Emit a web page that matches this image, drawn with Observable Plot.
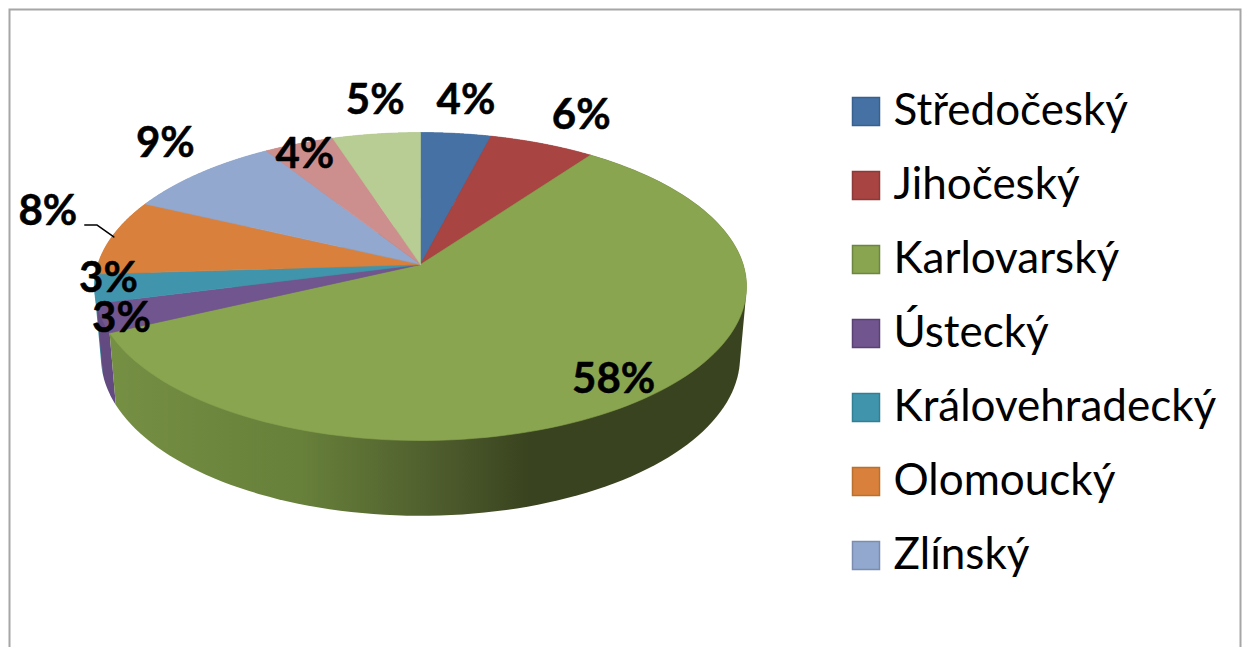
<!DOCTYPE html>
<html>
<head>
<meta charset="utf-8">
<style>html,body{margin:0;padding:0;background:#fff;overflow:hidden}svg{display:block}</style>
<script src="https://cdn.jsdelivr.net/npm/d3@7"></script>
<script src="https://cdn.jsdelivr.net/npm/@observablehq/plot@0.6"></script>
</head>
<body>
<script>
// ---- chart values ----
const categories = ["Středočeský","Jihočeský","Karlovarský","Ústecký","Královehradecký","Olomoucký","Zlínský","",""];
const shares = [4,6,58,3,3,8,9,4,5];
const topColors = ["#4571a5","#a84442","#89a550","#71558f","#4095ad","#d9813c","#92a8ce","#cd8f8e","#b8cd93"];
const sideColors = ["#3a5f8a","#8a3735","url(#sideGreen)","#634a80","#3a8ba0","#b96d30","#7a8fb0","#ad7978","#9bb07a"];
const legendBorders = ["#38608f","#8b3a38","#6d8540","#5a4173","#317f93","#b9702f","#7a8db0"];
const labelNudges = [[10,-33],[39,-28],[-38,-16],[20,0],[14,-10],[-64,-25],[-34,-30],[6,11],[-1,-33]];

// ---- scene geometry (a tilted disc seen in perspective) ----
const W = 1248, H = 647;
const apex = {x: 420, y: 264};
const persp = -1/7, kx = 322.7, ky = 150.86;
const depth = {sx: 0.98, sy: 1.03, dy: 70};

function rim(theta, r = 1) {
  const u = r * Math.sin(theta), v = -r * Math.cos(theta), d = 1 + persp * v;
  return {x: apex.x + kx * u / d, y: apex.y + ky * v / d};
}
function lower(p) {
  return {x: apex.x + (p.x - apex.x) * depth.sx, y: apex.y + (p.y - apex.y) * depth.sy + depth.dy};
}
const total = d3.sum(shares);
let cum = 0;
const slices = shares.map((s, i) => {
  const a0 = cum / total * 2 * Math.PI; cum += s;
  const a1 = cum / total * 2 * Math.PI;
  const arc = d3.range(0, 121).map(k => rim(a0 + (a1 - a0) * k / 120));
  return {i, a0, a1, mid: (a0 + a1) / 2, arc};
});
const backToFront = d3.sort(slices, s => -Math.cos(s.mid));

// the side wall of a slice: the hull of its upper and lower rim; the top face covers the rest
const sideMarks = backToFront.map(s => {
  const hull = d3.polygonHull([...s.arc, ...s.arc.map(lower)].map(p => [p.x, p.y]));
  return Plot.line([...hull, hull[0]], {x: d => d[0], y: d => d[1], fill: sideColors[s.i], stroke: "none"});
});
const topMarks = slices.map(s => Plot.line(
  [apex, ...s.arc, apex],
  {x: "x", y: "y", fill: topColors[s.i], stroke: topColors[s.i], strokeWidth: 0.6}
));
const labels = slices.map(s => {
  const p = rim(s.mid), n = labelNudges[s.i];
  return {x: p.x + n[0], y: p.y + n[1], text: shares[s.i] + "%"};
});
const orange = rim(slices[5].mid);
const leader = [
  {x: orange.x - 27, y: orange.y - 12},
  {x: orange.x - 15, y: orange.y - 12},
  {x: orange.x + 2, y: orange.y}
];
const legend = categories.filter(Boolean).map((name, i) => ({
  name, i, color: topColors[i], border: legendBorders[i],
  cy: 111.5 + i * 74
}));

const defs = () => {
  const el = document.createElementNS("http://www.w3.org/2000/svg", "defs");
  el.innerHTML = `<linearGradient id="sideGreen" gradientUnits="userSpaceOnUse" x1="110" x2="745" y1="0" y2="0">
    <stop offset="0" stop-color="#758f43"/>
    <stop offset="0.3" stop-color="#67803a"/>
    <stop offset="0.5" stop-color="#505f2e"/>
    <stop offset="0.66" stop-color="#39431f"/>
    <stop offset="1" stop-color="#39431f"/>
  </linearGradient>`;
  return el;
};

const chart = Plot.plot({
  width: W, height: H, margin: 0,
  x: {domain: [0, W], range: [0, W], axis: null},
  y: {domain: [0, H], range: [0, H], axis: null},
  marks: [
    defs,
    Plot.frame({stroke: "#a6a6a6", strokeWidth: 2, insetTop: 9, insetLeft: 9, insetRight: 8, insetBottom: -10}),
    ...sideMarks,
    ...topMarks,
    Plot.line(leader, {x: "x", y: "y", stroke: "#000", strokeWidth: 1.5}),
    Plot.text(labels, {x: "x", y: "y", text: "text", fontFamily: "Lato", fontWeight: "bold", fontSize: 42, fill: "#000", stroke: "#000", strokeWidth: 0.5, lineAnchor: "middle"}),
    Plot.rect(legend, {x1: 852.5, x2: 879.5, y1: d => d.cy - 14, y2: d => d.cy + 14, fill: d => d.color, stroke: d => d.border, strokeWidth: 1.5}),
    Plot.text(legend, {x: 893, y: d => d.cy - 1, text: "name", textAnchor: "start", lineAnchor: "middle", fontFamily: "Lato", fontSize: 44, fill: "#000"})
  ],
  color: {type: "identity"}
});
document.body.appendChild(chart);
</script>
</body>
</html>
